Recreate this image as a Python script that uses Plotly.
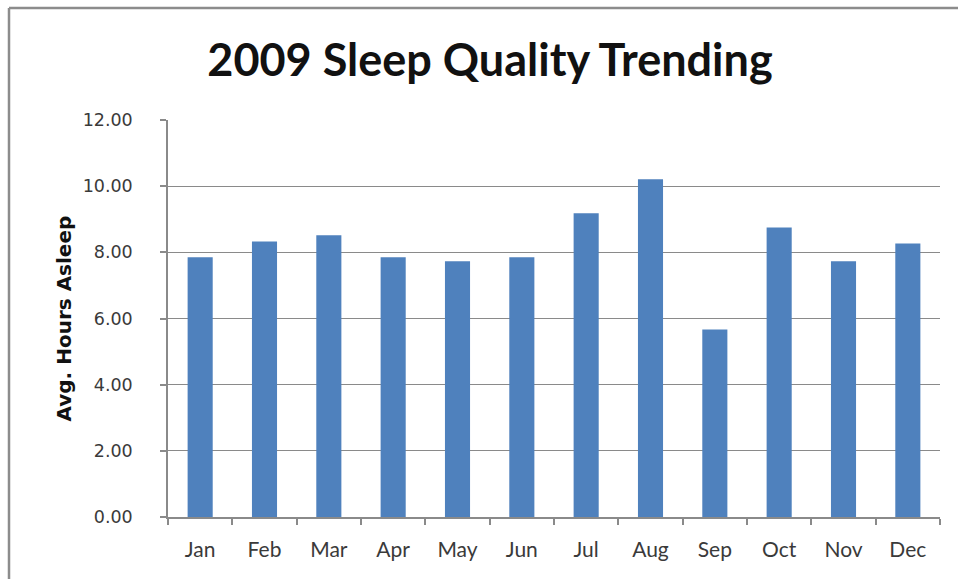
import plotly.graph_objects as go

# Average hours asleep per month, 2009
months = ["Jan", "Feb", "Mar", "Apr", "May", "Jun",
          "Jul", "Aug", "Sep", "Oct", "Nov", "Dec"]
avg_hours = [7.85, 8.33, 8.52, 7.85, 7.73, 7.85,
             9.18, 10.21, 5.67, 8.75, 7.73, 8.27]
y_ticks = [0, 2, 4, 6, 8, 10, 12]

W, H = 958, 579
ML, MR, MT, MB = 168, 18, 120, 62
PW, PH = W - ML - MR, H - MT - MB

def px_x(x):
    return (x - ML) / PW

def px_y(y):
    return (H - MB - y) / PH

bar_color = "#4F81BD"
grid_color = "#8A8A8A"
text_color = "#3A3A3A"

fig = go.Figure(
    go.Bar(
        x=months,
        y=avg_hours,
        marker=dict(color=bar_color, line=dict(width=0)),
        width=0.39,
    )
)

fig.update_layout(
    width=W,
    height=H,
    margin=dict(l=ML, r=MR, t=MT, b=MB),
    paper_bgcolor="white",
    plot_bgcolor="white",
    showlegend=False,
    title=dict(
        text="<b>2009 Sleep Quality Trending</b>",
        font=dict(family="Lato", size=45, color="#111111"),
        xref="container", x=490 / W, xanchor="center",
        yref="container", y=1 - 60 / H, yanchor="middle",
    ),
    font=dict(family="Open Sans", color=text_color),
)

fig.update_xaxes(
    showline=True, linecolor=grid_color, linewidth=1.5,
    ticks="outside", tickson="boundaries", ticklen=6,
    tickcolor=grid_color, tickwidth=1.5,
    tickfont=dict(family="Lato", size=21, color=text_color),
    ticklabelstandoff=13,
    showgrid=False,
)

fig.update_yaxes(
    range=[0, 12],
    tickvals=y_ticks,
    ticktext=[f"{v:.2f}" for v in y_ticks],
    showline=True, linecolor=grid_color, linewidth=1.5,
    ticks="outside", ticklen=6, tickcolor=grid_color, tickwidth=1.5,
    tickfont=dict(family="DejaVu Sans", size=17.5, color=text_color),
    ticklabelstandoff=24,
    showgrid=True, gridcolor=grid_color, gridwidth=1.2,
    zeroline=False,
)

# y-axis title
fig.add_annotation(
    text="<b>Avg. Hours Asleep</b>",
    textangle=-90,
    xref="paper", yref="paper",
    x=px_x(63), y=0.5,
    xanchor="center", yanchor="middle",
    showarrow=False,
    font=dict(family="DejaVu Sans", size=20, color="#111111"),
)

# chart frame (top and left edges)
frame = dict(color="#8C8C8C", width=2.5)
fig.add_shape(type="line", xref="paper", yref="paper",
              x0=px_x(9), x1=px_x(W), y0=px_y(8), y1=px_y(8), line=frame)
fig.add_shape(type="line", xref="paper", yref="paper",
              x0=px_x(9), x1=px_x(9), y0=px_y(8), y1=px_y(H), line=frame)

fig.write_html("out.html")
